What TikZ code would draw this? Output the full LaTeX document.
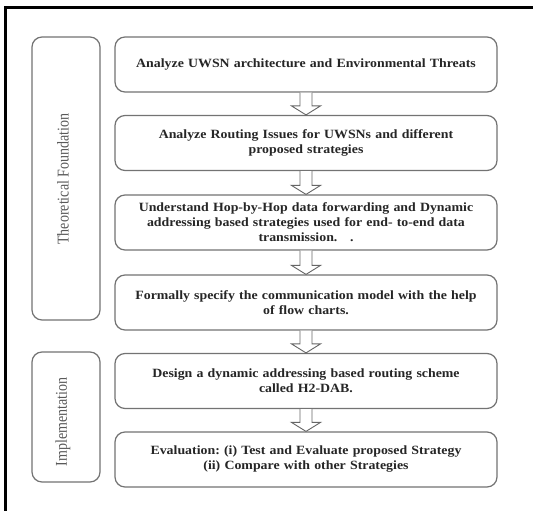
\documentclass[tikz,border=0pt]{standalone}
\usepackage{fontspec}
\usetikzlibrary{calc}
\setmainfont{Liberation Serif}[FakeStretch=1.1]
\newfontfamily\sidefont{Liberation Serif}[FakeStretch=0.85]
\frenchspacing
\begin{document}
\begin{tikzpicture}[x=1pt,y=-1pt,
  stepbox/.style={draw=black!55,line width=1.2pt,rounded corners=10pt,fill=white,
    minimum width=382pt,minimum height=55pt,align=center,text width=370pt,
    font=\fontsize{12.6}{15}\selectfont\bfseries,text=black!85,inner sep=0pt},
  sidebox/.style={draw=black!55,line width=1.2pt,rounded corners=10pt,minimum width=68pt},
  sidelabel/.style={rotate=90,font=\sidefont\fontsize{16.5}{18}\selectfont,text=black!65},
  flowarrow/.style={draw=black!60,line width=0.9pt,fill=white,line join=miter}]
\useasboundingbox (0,0) rectangle (533,511);
\fill[white] (0,0) rectangle (533,511);
% outer frame
\draw[line width=3pt] (5.5,511) -- (5.5,7.5) -- (533,7.5);
% side boxes
\node[sidebox,minimum height=283pt] (tf) at (66,178.5) {};
\node[sidelabel] (tft) at (63,179) {Theoretical Foundation};
\node[sidebox,minimum height=130pt] (im) at (66,417) {};
\node[sidelabel] (imt) at (63,422) {Implementation};
% step boxes
\node[stepbox] (b1) at (306,64.5) {Analyze UWSN architecture and Environmental Threats};
\node[stepbox] (b2) at (306,143) {Analyze Routing Issues for UWSNs and different\\proposed strategies};
\node[stepbox] (b3) at (306,222.5) {Understand Hop-by-Hop data forwarding and Dynamic\\addressing based strategies used for end- to-end data\\transmission. \ \ .};
\node[stepbox] (b4) at (306,302.5) {Formally specify the communication model with the help\\of flow charts.};
\node[stepbox] (b5) at (306,381) {Design a dynamic addressing based routing scheme\\called H2-DAB.};
\node[stepbox] (b6) at (306,459.5) {Evaluation: (i) Test and Evaluate proposed Strategy\\(ii) Compare with other Strategies};
% hollow arrows
\foreach \a/\b in {b1/b2,b2/b3,b3/b4,b4/b5,b5/b6}{
  \draw[flowarrow] ($(\a.south)+(-6,0)$) -- ($(\b.north)+(-6,-9)$) -- ($(\b.north)+(-14.5,-9)$)
    -- (\b.north) -- ($(\b.north)+(14.5,-9)$) -- ($(\b.north)+(6,-9)$) -- ($(\a.south)+(6,0)$);
}
\end{tikzpicture}
\end{document}
